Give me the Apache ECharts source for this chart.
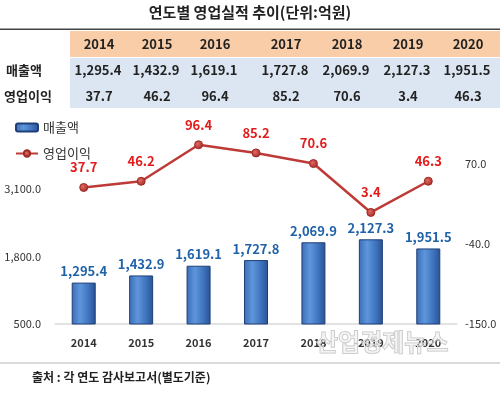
<!DOCTYPE html>
<html><head><meta charset="utf-8">
<script src="https://cdn.jsdelivr.net/npm/echarts@6/dist/echarts.min.js"></script>
<style>html,body{margin:0;padding:0;background:#fff}#c{width:500px;height:394px}</style>
</head><body><div id="c"></div>
<script>
const years = ['2014','2015','2016','2017','2018','2019','2020'];
const sales = [1295.4,1432.9,1619.1,1727.8,2069.9,2127.3,1951.5];
const profit = [37.7,46.2,96.4,85.2,70.6,3.4,46.3];
const seriesNames = ['매출액','영업이익'];
const titleText = '연도별 영업실적 추이(단위:억원)';
const sourceText = '출처 : 각 연도 감사보고서(별도기준)';
const watermark = '산업경제뉴스';

const FONT = '"Noto Sans CJK KR", "Noto Sans", sans-serif';
const fmt = v => Number(v).toLocaleString('en-US',{minimumFractionDigits:1,maximumFractionDigits:1});
const colCenters = [99,157,215,286,347,408,468];

const graphics = [];
graphics.push({type:'text', left:'center', top:5, style:{text:titleText, font:'bold 15px '+FONT, fill:'#222'}});
graphics.push({type:'rect', shape:{x:0,y:28.5,width:500,height:1.5}, style:{fill:'#444'}});
graphics.push({type:'rect', shape:{x:70,y:31,width:430,height:26}, style:{fill:'#F9CDA8'}});
graphics.push({type:'rect', shape:{x:70,y:58,width:430,height:50}, style:{fill:'#DCE6F2'}});
years.forEach((y,i)=>{
  graphics.push({type:'text', x:colCenters[i], y:44, style:{text:y, font:'bold 13px '+FONT, fill:'#222', align:'center', verticalAlign:'middle'}});
  graphics.push({type:'text', x:colCenters[i]-1, y:70, style:{text:fmt(sales[i]), font:'bold 13px '+FONT, fill:'#222', align:'center', verticalAlign:'middle'}});
  graphics.push({type:'text', x:colCenters[i], y:96, style:{text:fmt(profit[i]), font:'bold 13px '+FONT, fill:'#222', align:'center', verticalAlign:'middle'}});
});
graphics.push({type:'text', x:6, y:70, style:{text:seriesNames[0], font:'bold 13px '+FONT, fill:'#222', verticalAlign:'middle'}});
graphics.push({type:'text', x:4, y:96, style:{text:seriesNames[1], font:'bold 13px '+FONT, fill:'#222', verticalAlign:'middle'}});
graphics.push({type:'rect', shape:{x:0,y:362,width:500,height:2}, style:{fill:'#DADADA'}});
graphics.push({type:'text', x:32, y:377, style:{text:sourceText, font:'bold 12px '+FONT, fill:'#222', verticalAlign:'middle'}});
graphics.push({type:'text', x:316, y:342, z:100, style:{text:watermark, font:'bold 24px '+FONT, fill:'rgba(235,235,235,0.5)', stroke:'#c4c4c4', lineWidth:1, verticalAlign:'middle'}});

const chart = echarts.init(document.getElementById('c'), null, {renderer:'canvas'});
chart.setOption({
  animation:false,
  textStyle:{fontFamily:FONT},
  graphic: graphics,
  legend:{
    data:seriesNames, orient:'vertical', left:10, top:116, itemWidth:22, itemHeight:8, itemGap:13,
    textStyle:{fontSize:13, color:'#333', fontFamily:FONT}
  },
  grid:{left:55, right:43, top:121, bottom:70},
  xAxis:{
    type:'category', data:years,
    axisLine:{onZero:false, lineStyle:{color:'#D9D9D9', width:1.5}}, axisTick:{show:false},
    axisLabel:{color:'#333', fontSize:11, fontWeight:'bold', margin:13, fontFamily:FONT}
  },
  yAxis:[
    {type:'value', min:500, max:4400, interval:1300, splitLine:{show:false}, axisLine:{show:false}, axisTick:{show:false},
     axisLabel:{showMaxLabel:false, color:'#333', fontSize:11, margin:14, formatter:fmt, fontFamily:FONT}},
    {type:'value', min:-150, max:129.1, interval:110, splitLine:{show:false}, axisLine:{show:false}, axisTick:{show:false},
     axisLabel:{showMaxLabel:false, color:'#333', fontSize:11, margin:8, formatter:fmt, fontFamily:FONT}}
  ],
  series:[
    {name:seriesNames[0], type:'bar', data:sales, barWidth:24, yAxisIndex:0,
     itemStyle:{borderColor:'#1E3F78', borderWidth:1,
       color:new echarts.graphic.LinearGradient(0,0,1,0,[{offset:0,color:'#3B6DB6'},{offset:0.35,color:'#5E96DB'},{offset:0.7,color:'#3F74BE'},{offset:1,color:'#2A5292'}])},
     label:{show:true, position:'top', distance:5, color:'#1F62A8', fontSize:13, fontWeight:'bold', formatter:p=>fmt(p.value), fontFamily:FONT}},
    {name:seriesNames[1], type:'line', data:profit, yAxisIndex:1, symbol:'circle', symbolSize:8,
     lineStyle:{color:'#BE3A36', width:2.5},
     itemStyle:{color:new echarts.graphic.RadialGradient(0.4,0.4,0.6,[{offset:0,color:'#E06A62'},{offset:1,color:'#A72C28'}]), borderColor:'#9E2A26', borderWidth:1},
     label:{show:true, position:'top', distance:9, color:'#E21B1B', fontSize:13, fontWeight:'bold', formatter:p=>fmt(p.value), fontFamily:FONT}}
  ]
});
</script></body></html>
